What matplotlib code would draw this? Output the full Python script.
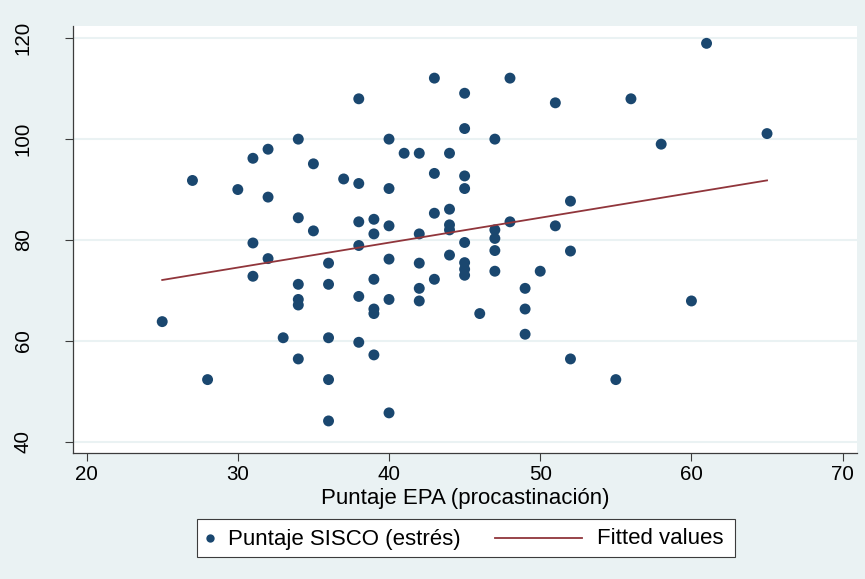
import numpy as np
import matplotlib
matplotlib.use("Agg")
import matplotlib.pyplot as plt
from matplotlib import font_manager
from matplotlib.patches import Rectangle
from matplotlib.lines import Line2D

# Puntaje EPA (procastinacion) vs Puntaje SISCO (estres)
epa = [25, 27, 28, 30,
       31, 31, 31, 32, 32, 32, 33,
       34, 34, 34, 34, 34, 34, 35, 35,
       36, 36, 36, 36, 36, 37,
       38, 38, 38, 38, 38, 38,
       39, 39, 39, 39, 39, 39,
       40, 40, 40, 40, 40, 40, 41,
       42, 42, 42, 42, 42,
       43, 43, 43, 43,
       44, 44, 44, 44, 44,
       45, 45, 45, 45, 45, 45, 45, 45, 46,
       47, 47, 47, 47, 47, 48, 48,
       49, 49, 49, 50, 51, 51, 52, 52, 52,
       55, 56, 58, 60, 61, 65]
sisco = [63.8, 91.8, 52.3, 90.0,
         96.2, 79.4, 72.8, 98.0, 88.5, 76.3, 60.6,
         100.0, 84.4, 71.2, 68.2, 67.1, 56.4, 95.1, 81.8,
         75.4, 71.2, 60.6, 52.3, 44.1, 92.1,
         108.0, 91.2, 83.6, 78.9, 68.8, 59.7,
         84.1, 81.2, 72.2, 66.3, 65.4, 57.2,
         100.0, 90.2, 82.8, 76.2, 68.2, 45.7, 97.2,
         97.2, 81.2, 75.4, 70.4, 67.9,
         112.1, 93.2, 85.3, 72.2,
         97.2, 86.1, 83.0, 82.0, 77.0,
         109.1, 102.1, 92.7, 90.2, 79.5, 75.5, 74.2, 73.0, 65.4,
         100.0, 82.0, 80.3, 77.9, 73.8, 112.1, 83.6,
         70.4, 66.3, 61.3, 73.8, 107.2, 82.8, 87.7, 77.8, 56.4,
         52.3, 108.0, 99.0, 67.9, 119.0, 101.1]
x_ticks = [20, 30, 40, 50, 60, 70]
y_ticks = [40, 60, 80, 100, 120]

# Stata-like narrow font if present
try:
    font_manager.findfont("Liberation Sans Narrow", fallback_to_default=False)
    plt.rcParams["font.family"] = "Liberation Sans Narrow"
    fs = 1.0
except ValueError:
    plt.rcParams["font.family"] = "Liberation Sans"
    fs = 0.82

bg = "#eaf2f3"
navy = "#1a476f"
maroon = "#90353b"

x = np.array(epa, dtype=float)
y = np.array(sisco, dtype=float)
slope, icept = np.polyfit(x, y, 1)
xfit = np.array([x.min(), x.max()])
yfit = icept + slope * xfit

W, H = 865, 579
fig = plt.figure(figsize=(W / 100, H / 100), dpi=100, facecolor=bg)
ax = fig.add_axes([73 / W, 1 - 452.7 / H, (857 - 73) / W, (452.7 - 25.7) / H])
ax.set_facecolor("white")

ax.scatter(x, y, s=62, color=navy, edgecolors="none", zorder=3)
ax.plot(xfit, yfit, color=maroon, lw=1.3, zorder=4)

ax.set_xlim(19.1, 70.95)
ax.set_ylim(37.8, 122.5)
ax.set_xticks(x_ticks)
ax.set_yticks(y_ticks)
ax.grid(axis="y", color=bg, lw=1.5, zorder=0)
ax.set_axisbelow(True)

for s in ["top", "right"]:
    ax.spines[s].set_visible(False)
for s in ["left", "bottom"]:
    ax.spines[s].set_color("#3c3c3c")
    ax.spines[s].set_linewidth(0.9)

tick_fs = 18 * fs
ax.tick_params(axis="x", length=6, width=0.8, color="#3c3c3c", pad=3, labelsize=tick_fs)
ax.tick_params(axis="y", length=6, width=0.8, color="#3c3c3c", pad=23, labelsize=tick_fs)
for lab in ax.get_yticklabels():
    lab.set_rotation(90)
    lab.set_va("center")

ax.set_xlabel("Puntaje EPA (procastinación)", fontsize=19.5 * fs, labelpad=3)

# legend box drawn by hand (Stata style layout)
def fx(px):
    return px / W

def fy(py):
    return 1 - py / H

fig.patches.append(Rectangle((fx(197), fy(557)), fx(735) - fx(197), fy(519) - fy(557),
                             transform=fig.transFigure, facecolor="white",
                             edgecolor="#3c3c3c", lw=0.8, zorder=1))
fig.lines.append(Line2D([fx(210)], [fy(538)], transform=fig.transFigure, marker="o",
                        markersize=6, color=navy, markeredgewidth=0, zorder=2))
fig.text(fx(228), fy(539), "Puntaje SISCO (estrés)", fontsize=19.5 * fs, va="center", ha="left")
fig.lines.append(Line2D([fx(495), fx(582)], [fy(538), fy(538)], transform=fig.transFigure,
                        color=maroon, lw=1.3, zorder=2))
fig.text(fx(597), fy(539), "Fitted values", fontsize=19.5 * fs, va="center", ha="left")

fig.savefig("out.png", dpi=100, facecolor=bg)
